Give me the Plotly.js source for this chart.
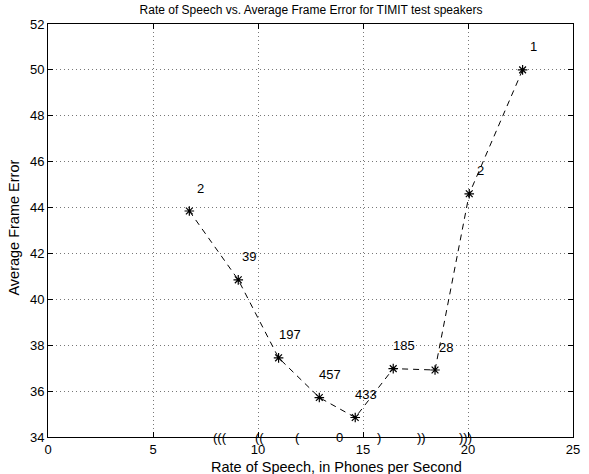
<!DOCTYPE html>
<html>
<head>
<meta charset="utf-8">
<script src="https://cdn.plot.ly/plotly-3.0.1.min.js"></script>
<style>html,body{margin:0;padding:0;background:#fff;}#chart{width:589px;height:474px;}</style>
</head>
<body>
<div id="chart"></div>
<script>
// Data
const rate = [6.73, 9.06, 10.98, 12.92, 14.63, 16.44, 18.43, 20.06, 22.6];
const frameError = [43.85, 40.85, 37.45, 35.72, 34.85, 36.98, 36.92, 44.6, 50.0];
const speakerCounts = ['2', '39', '197', '457', '433', '185', '28', '2', '1'];
const bracketMarks = ['(((', '((', '(', '0', ')', '))', ')))'];
const bracketRate = [8.19, 10.05, 11.86, 13.9, 15.76, 17.8, 19.86];
const xTicks = [0, 5, 10, 15, 20, 25];
const yTicks = [34, 36, 38, 40, 42, 44, 46, 48, 50, 52];

const FONT = 'Liberation Sans, Arial, Helvetica, sans-serif';
const labelDx = 0.53, labelDy = 1.0;

const annotations = [];
for (let i = 0; i < rate.length; i++) {
  annotations.push({
    x: rate[i] + labelDx, y: frameError[i] + labelDy,
    xref: 'x', yref: 'y', text: speakerCounts[i], showarrow: false,
    xanchor: 'center', yanchor: 'middle',
    font: {family: FONT, size: 13, color: '#000'}
  });
}
for (let i = 0; i < bracketMarks.length; i++) {
  annotations.push({
    x: bracketRate[i], y: 34, xref: 'x', yref: 'y',
    text: bracketMarks[i], showarrow: false,
    xanchor: 'center', yanchor: 'middle',
    font: {family: FONT, size: 13, color: '#000'}
  });
}
// axis titles placed as annotations to match the reference's offsets
annotations.push({
  x: 0.55, y: -0.072, xref: 'paper', yref: 'paper',
  text: 'Rate of Speech, in Phones per Second', showarrow: false,
  xanchor: 'center', yanchor: 'middle',
  font: {family: FONT, size: 14.5, color: '#000'}
});
annotations.push({
  x: -0.064, y: 0.508, xref: 'paper', yref: 'paper',
  text: 'Average Frame Error', showarrow: false, textangle: -90,
  xanchor: 'center', yanchor: 'middle',
  font: {family: FONT, size: 14.5, color: '#000'}
});

const trace = {
  x: rate, y: frameError, type: 'scatter', mode: 'lines+markers',
  line: {color: '#000', width: 1, dash: '6px,5px'},
  marker: {symbol: 'asterisk-open', size: 8, color: '#000', line: {color: '#000', width: 1.2}},
  cliponaxis: false, hoverinfo: 'skip'
};

const axisCommon = {
  showline: true, linecolor: '#000', linewidth: 1, mirror: 'ticks',
  ticks: 'inside', ticklen: 5, tickcolor: '#000', tickwidth: 1,
  showgrid: true, gridcolor: '#777', griddash: '1px,3px', gridwidth: 1,
  zeroline: false, tickfont: {family: FONT, size: 13, color: '#000'}
};

const layout = {
  width: 589, height: 474,
  margin: {l: 48, r: 16, t: 24, b: 37, pad: 0},
  paper_bgcolor: '#fff', plot_bgcolor: '#fff',
  showlegend: false,
  title: {text: 'Rate of Speech vs. Average Frame Error for TIMIT test speakers',
          font: {family: FONT, size: 12, color: '#000'}, x: 0.528, xanchor: 'center', y: 0.979, yanchor: 'middle'},
  xaxis: Object.assign({}, axisCommon, {
    range: [0, 25], tickvals: xTicks, ticktext: xTicks.map(String)
  }),
  yaxis: Object.assign({}, axisCommon, {
    range: [34, 52], tickvals: yTicks, ticktext: yTicks.map(String)
  }),
  annotations: annotations
};

Plotly.newPlot('chart', [trace], layout, {displayModeBar: false, staticPlot: true});
</script>
</body>
</html>
